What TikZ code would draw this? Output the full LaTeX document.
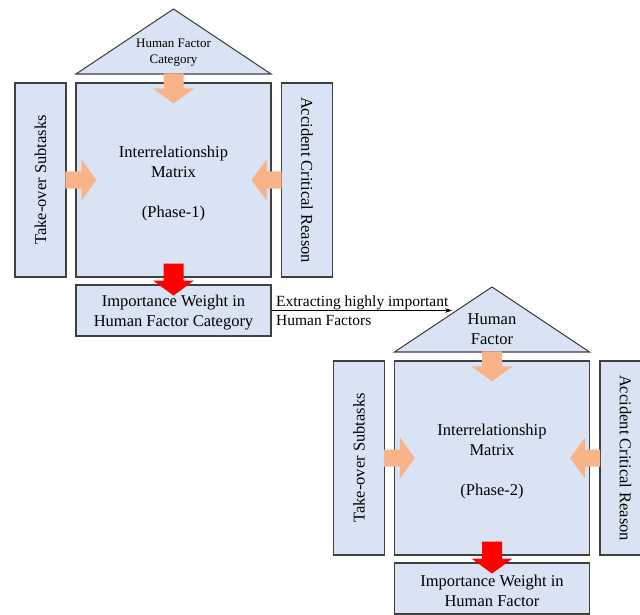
\documentclass[tikz,border=0pt]{standalone}
\usepackage{fontspec}
\setmainfont{Liberation Serif}
\usetikzlibrary{arrows.meta,positioning}
\definecolor{boxblue}{RGB}{218,227,243}
\definecolor{boxline}{RGB}{64,64,64}
\definecolor{flow}{RGB}{248,180,136}
\definecolor{outred}{RGB}{255,0,0}
% block arrow: colour, start, direction, length, half shaft width
\newcommand{\blockarrow}[5]{%
  \fill[#1,shift={(#2)},rotate=#3] (0,-#5) -- (#4-15,-#5) -- (#4-15,-20.5) -- (#4,0)
    -- (#4-15,20.5) -- (#4-15,#5) -- (0,#5) -- cycle;}

\begin{document}
\begin{tikzpicture}[x=1pt,y=-1pt,
  box/.style={draw=boxline,line width=1.1pt,fill=boxblue,inner sep=2pt,align=center,font=\fontsize{16.5}{20}\selectfont},
  roof/.style={draw=boxline,line width=1.1pt,fill=boxblue,line join=miter},
  link/.style={-{Stealth[length=7pt,width=4.5pt]},line width=0.5pt}]
  \useasboundingbox (0,0) rectangle (640,615);
  \foreach \g/\dx/\dy/\ty/\tsize/\tskip/\ttext/\rtext in
    {1/0/0/53/13/16/{Human Factor\\Category}/{Importance Weight in\\Human Factor Category},
     2/318.5/278/51/16.5/20/{Human\\Factor}/{Importance Weight in\\Human Factor}}{
    \begin{scope}[shift={(\dx,\dy)}]
      \draw[roof] (76,74) -- (173.5,9) -- (271,74) -- cycle;
      \node[align=center,font=\fontsize{\tsize}{\tskip}\selectfont] (hf\g) at (173.5,\ty) {\ttext};
      \node[box,minimum width=195pt,minimum height=194pt] (mat\g) at (173.5,180)
        {\rule{0pt}{19.5pt}Interrelationship\\Matrix\\[20pt](Phase-\g)};
      \node[box,rotate=90,minimum width=194pt,minimum height=51pt] (ts\g) at (40.5,180) {Take-over Subtasks};
      \node[box,rotate=-90,minimum width=194pt,minimum height=51pt] (acr\g) at (307,180) {Accident Critical Reason};
      \node[box,minimum width=195pt,minimum height=51pt] (iw\g) at (173.5,310.5) {\rule{0pt}{16.5pt}\rtext};
      \blockarrow{flow}{[yshift=9pt]mat\g.north}{-90}{30}{10}
      \blockarrow{flow}{[xshift=-10pt]mat\g.west}{0}{31}{8.5}
      \blockarrow{flow}{[xshift=10pt]mat\g.east}{180}{30}{8.5}
      \blockarrow{outred}{[yshift=14pt]mat\g.south}{-90}{32}{10}
    \end{scope}
  }
  \coordinate (tip) at (452,310.5);
  \draw[link] (iw1.east) -- (tip);
  \node[anchor=base west,inner sep=0pt,font=\fontsize{15.5}{19}\selectfont] (ext) at (276,306) {Extracting highly important};
  \node[anchor=base west,inner sep=0pt,font=\fontsize{15.5}{19}\selectfont] (hfs) at (276,325) {Human Factors};
\end{tikzpicture}
\end{document}
